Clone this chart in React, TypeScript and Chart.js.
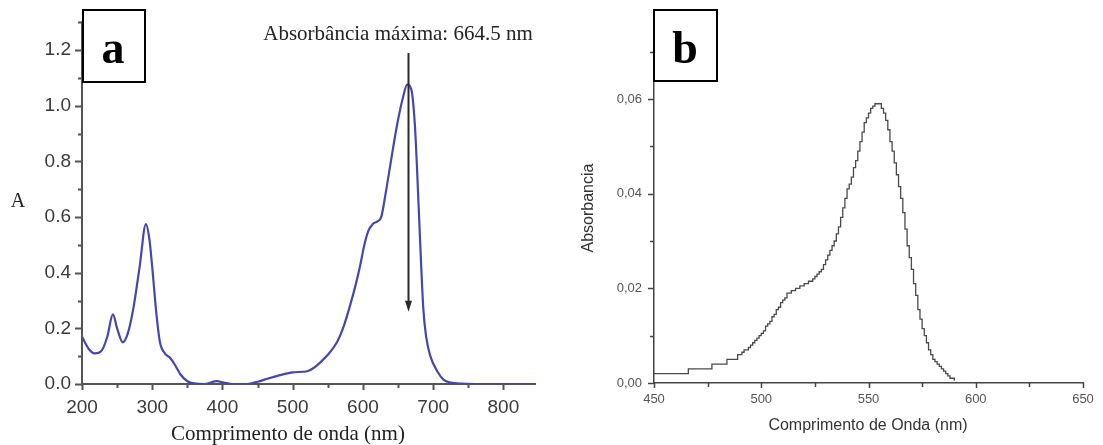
import React, { useEffect, useRef } from "react";
import { Chart, registerables } from "chart.js";

Chart.register(...registerables);

// ---------- Panel a data ----------
const aWavelengths = [
  200, 210, 218, 228, 236, 244, 250, 258, 265, 273, 282, 291, 296, 300, 306, 311, 318, 325, 332, 340,
  350, 360, 375, 392, 402, 415, 435, 450, 465, 482, 500, 521, 530, 539, 550, 563, 573, 582, 590, 596,
  602, 608, 614, 620, 626, 632, 639, 645, 650, 657, 663, 667, 670, 674, 677, 682, 686, 690, 696, 706,
  715, 725, 740, 760, 800, 845,
];
const aAbsorbance = [
  0.17, 0.125, 0.11, 0.12, 0.17, 0.25, 0.2, 0.15, 0.18, 0.27, 0.42, 0.575, 0.52, 0.42, 0.25, 0.15, 0.11, 0.095, 0.07, 0.035,
  0.01, 0.002, 0.0, 0.01, 0.005, 0.0, 0.0, 0.008, 0.02, 0.032, 0.042, 0.046, 0.058, 0.077, 0.105, 0.15, 0.21, 0.285, 0.36, 0.425,
  0.5, 0.552, 0.575, 0.584, 0.6, 0.68, 0.788, 0.88, 0.95, 1.03, 1.076, 1.07, 1.045, 0.93, 0.776, 0.48, 0.27, 0.17, 0.1, 0.045,
  0.015, 0.005, 0.001, 0.0, 0.0, 0.0,
];
const aXTicks = [200, 300, 400, 500, 600, 700, 800];
const aXTickLabels = ["200", "300", "400", "500", "600", "700", "800"];
const aXMinorTicks = [250, 350, 450, 550, 650, 750];
const aYTicks = [0, 0.2, 0.4, 0.6, 0.8, 1.0, 1.2];
const aYTickLabels = ["0.0", "0.2", "0.4", "0.6", "0.8", "1.0", "1.2"];
const aYMinorTicks = [0.1, 0.3, 0.5, 0.7, 0.9, 1.1, 1.3];
const aXRange = [200, 845];
const aYRange = [0, 1.3];
const aXTitle = "Comprimento de onda (nm)";
const aYTitle = "A";
const aLetter = "a";
const peakWavelength = 664.5;
const arrowTopValue = 1.19;
const arrowTipValue = 0.26;
const annotationText = "Absorbância máxima: 664.5 nm";

// ---------- Panel b data ----------
const bWavelengths = [
  450, 466, 477, 484, 489,
  490, 491, 492, 493, 494, 495, 496, 497, 498, 499,
  500, 501, 502, 503, 504, 505, 506, 507, 508, 509,
  510, 511, 512, 513, 514, 515, 516, 517, 518, 519,
  520, 521, 522, 523, 524, 525, 526, 527, 528, 529,
  530, 531, 532, 533, 534, 535, 536, 537, 538, 539,
  540, 541, 542, 543, 544, 545, 546, 547, 548, 549,
  550, 551, 552, 553, 554, 555, 556, 557, 558, 559,
  560, 561, 562, 563, 564, 565, 566, 567, 568, 569,
  570, 571, 572, 573, 574, 575, 576, 577, 578, 579,
  580, 581, 582, 583, 584, 585, 586, 587, 588, 589,
  590,
];
const bAbsorbance = [
  0.002, 0.003, 0.004, 0.005, 0.006,
  0.006, 0.0065, 0.007, 0.007, 0.0075, 0.008, 0.0085, 0.009, 0.0095, 0.01,
  0.0105, 0.011, 0.012, 0.0125, 0.013, 0.014, 0.0145, 0.0155, 0.016, 0.017,
  0.0175, 0.018, 0.019, 0.019, 0.0195, 0.0195, 0.02, 0.02, 0.0205, 0.0205,
  0.021, 0.021, 0.0215, 0.0215, 0.022, 0.0225, 0.023, 0.0235, 0.024, 0.025,
  0.026, 0.027, 0.028, 0.029, 0.03, 0.0315, 0.033, 0.035, 0.037, 0.039,
  0.041, 0.042, 0.0435, 0.0455, 0.047, 0.049, 0.051, 0.053, 0.055, 0.056,
  0.057, 0.058, 0.0585, 0.059, 0.059, 0.059, 0.058, 0.057, 0.0555, 0.0535,
  0.051, 0.049, 0.0465, 0.044, 0.0415, 0.039, 0.036, 0.0325, 0.029, 0.0265,
  0.024, 0.021, 0.0185, 0.0155, 0.0135, 0.0115, 0.01, 0.0085, 0.007, 0.006,
  0.005, 0.0045, 0.004, 0.0035, 0.003, 0.0025, 0.002, 0.0015, 0.001, 0.001,
  0.0005,
];
const bXTicks = [450, 500, 550, 600, 650];
const bXTickLabels = ["450", "500", "550", "600", "650"];
const bXMinorTicks = [475, 525, 575, 625];
const bYTicks = [0, 0.02, 0.04, 0.06];
const bYTickLabels = ["0,00", "0,02", "0,04", "0,06"];
const bYMinorTicks = [0.01, 0.03, 0.05, 0.07];
const bXRange = [450, 650];
const bYRange = [0, 0.075];
const bXTitle = "Comprimento de Onda (nm)";
const bYTitle = "Absorbancia";
const bLetter = "b";

const SANS = "'Liberation Sans', Arial, Helvetica, sans-serif";
const SERIF = "'Liberation Serif', 'Times New Roman', Times, serif";

type TickSpec = { major: number[]; minor: number[]; majorLen: number; minorLen: number };

function ticksPlugin(id: string, xs: TickSpec, ys: TickSpec, color: string, width: number) {
  return {
    id,
    afterDraw(chart: any) {
      const ctx = chart.ctx;
      const x = chart.scales.x;
      const y = chart.scales.y;
      const area = chart.chartArea;
      ctx.save();
      ctx.strokeStyle = color;
      ctx.lineWidth = width;
      ctx.beginPath();
      const drawX = (v: number, len: number) => {
        const px = Math.round(x.getPixelForValue(v)) + 0.5;
        ctx.moveTo(px, area.bottom);
        ctx.lineTo(px, area.bottom + len);
      };
      const drawY = (v: number, len: number) => {
        const py = Math.round(y.getPixelForValue(v)) + 0.5;
        ctx.moveTo(area.left, py);
        ctx.lineTo(area.left - len, py);
      };
      xs.major.forEach((v) => drawX(v, xs.majorLen));
      xs.minor.forEach((v) => drawX(v, xs.minorLen));
      ys.major.forEach((v) => drawY(v, ys.majorLen));
      ys.minor.forEach((v) => drawY(v, ys.minorLen));
      ctx.stroke();
      ctx.restore();
    },
  };
}

function letterBox(ctx: CanvasRenderingContext2D, x: number, y: number, w: number, h: number, letter: string, cx: number, base: number) {
  ctx.save();
  ctx.fillStyle = "#ffffff";
  ctx.fillRect(x, y, w, h);
  ctx.strokeStyle = "#000000";
  ctx.lineWidth = 2;
  ctx.strokeRect(x, y, w, h);
  ctx.fillStyle = "#000000";
  ctx.font = `bold 46px ${SERIF}`;
  ctx.textAlign = "center";
  ctx.textBaseline = "alphabetic";
  ctx.fillText(letter, cx, base);
  ctx.restore();
}

function scaleBase(
  range: number[],
  ticks: number[],
  labels: string[],
  size: number,
  fontSize: number,
  padding: number,
  color: string,
  borderColor: string,
  borderWidth: number
) {
  return {
    type: "linear" as const,
    min: range[0],
    max: range[1],
    afterBuildTicks: (scale: any) => {
      scale.ticks = ticks.map((v) => ({ value: v }));
    },
    afterFit: (scale: any) => {
      if (scale.isHorizontal()) scale.height = size;
      else scale.width = size;
    },
    grid: { display: false, drawTicks: false, tickLength: 0 },
    border: { display: true, color: borderColor, width: borderWidth },
    ticks: {
      autoSkip: false,
      maxRotation: 0,
      minRotation: 0,
      padding,
      color,
      font: { family: SANS, size: fontSize },
      callback: (_v: any, i: number) => labels[i],
    },
  };
}

function PanelA() {
  const ref = useRef<HTMLCanvasElement | null>(null);
  useEffect(() => {
    if (!ref.current) return;
    const decor = {
      id: "decorA",
      afterDraw(chart: any) {
        const ctx = chart.ctx;
        const xs = chart.scales.x;
        const ys = chart.scales.y;
        ctx.save();
        const ax = Math.round(xs.getPixelForValue(peakWavelength)) + 0.5;
        const top = ys.getPixelForValue(arrowTopValue);
        const tip = ys.getPixelForValue(arrowTipValue);
        ctx.strokeStyle = "#2a2a2a";
        ctx.fillStyle = "#2a2a2a";
        ctx.lineWidth = 2;
        ctx.beginPath();
        ctx.moveTo(ax, top);
        ctx.lineTo(ax, tip - 8);
        ctx.stroke();
        ctx.beginPath();
        ctx.moveTo(ax - 3.5, tip - 11);
        ctx.lineTo(ax + 3.5, tip - 11);
        ctx.lineTo(ax, tip);
        ctx.closePath();
        ctx.fill();
        ctx.fillStyle = "#222222";
        ctx.font = `21px ${SERIF}`;
        ctx.textAlign = "center";
        ctx.textBaseline = "alphabetic";
        ctx.fillText(annotationText, 398, 40);
        ctx.font = `21px ${SERIF}`;
        ctx.fillText(aXTitle, 288, 440);
        ctx.font = `20px ${SERIF}`;
        ctx.fillText(aYTitle, 18, 207);
        ctx.restore();
        letterBox(ctx, 83, 10, 62, 72, aLetter, 113, 63);
      },
    };
    const chart = new Chart(ref.current, {
      type: "line",
      data: {
        datasets: [
          {
            data: aWavelengths.map((w, i) => ({ x: w, y: aAbsorbance[i] })),
            borderColor: "#4646ad",
            borderWidth: 2.2,
            pointRadius: 0,
            cubicInterpolationMode: "monotone",
            fill: false,
          },
        ],
      },
      options: {
        responsive: false,
        animation: false,
        layout: { padding: { left: 12, right: 25, top: 14, bottom: 0 } },
        plugins: { legend: { display: false }, tooltip: { enabled: false }, title: { display: false } },
        scales: {
          x: scaleBase(aXRange, aXTicks, aXTickLabels, 61, 19, 12, "#3a3a3a", "#555555", 2),
          y: scaleBase(aYRange, aYTicks, aYTickLabels, 70, 19, 11, "#3a3a3a", "#555555", 2),
        },
      } as any,
      plugins: [
        ticksPlugin(
          "ticksA",
          { major: aXTicks, minor: aXMinorTicks, majorLen: 6, minorLen: 4 },
          { major: aYTicks, minor: aYMinorTicks, majorLen: 7, minorLen: 4 },
          "#555555",
          2
        ),
        decor,
      ],
    });
    return () => chart.destroy();
  }, []);
  return (
    <canvas
      ref={ref}
      width={560}
      height={445}
      style={{ position: "absolute", left: 0, top: 0, width: 560, height: 445 }}
    />
  );
}

function PanelB() {
  const ref = useRef<HTMLCanvasElement | null>(null);
  useEffect(() => {
    if (!ref.current) return;
    const decor = {
      id: "decorB",
      afterDraw(chart: any) {
        const ctx = chart.ctx;
        ctx.save();
        ctx.fillStyle = "#333333";
        ctx.font = `16px ${SANS}`;
        ctx.textAlign = "center";
        ctx.textBaseline = "middle";
        ctx.fillText(bXTitle, 868 - 560, 426);
        ctx.translate(589 - 560, 208);
        ctx.rotate(-Math.PI / 2);
        ctx.fillText(bYTitle, 0, 0);
        ctx.restore();
        letterBox(ctx, 654 - 560, 10, 63, 71, bLetter, 685 - 560, 63);
      },
    };
    const chart = new Chart(ref.current, {
      type: "line",
      data: {
        datasets: [
          {
            data: bWavelengths.map((w, i) => ({ x: w, y: bAbsorbance[i] })),
            borderColor: "#4a4a4a",
            borderWidth: 1.3,
            pointRadius: 0,
            stepped: true,
            fill: false,
          },
        ],
      },
      options: {
        responsive: false,
        animation: false,
        layout: { padding: { left: 24, right: 20, top: 28, bottom: 0 } },
        plugins: { legend: { display: false }, tooltip: { enabled: false }, title: { display: false } },
        scales: {
          x: scaleBase(bXRange, bXTicks, bXTickLabels, 62, 13, 9, "#555555", "#444444", 1.5),
          y: scaleBase(bYRange, bYTicks, bYTickLabels, 70, 13, 12, "#555555", "#444444", 1.5),
        },
      } as any,
      plugins: [
        ticksPlugin(
          "ticksB",
          { major: bXTicks, minor: bXMinorTicks, majorLen: 5, minorLen: 4 },
          { major: bYTicks, minor: bYMinorTicks, majorLen: 6, minorLen: 4 },
          "#444444",
          1.5
        ),
        decor,
      ],
    });
    return () => chart.destroy();
  }, []);
  return (
    <canvas
      ref={ref}
      width={543}
      height={445}
      style={{ position: "absolute", left: 560, top: 0, width: 543, height: 445 }}
    />
  );
}

export default function App() {
  return (
    <div style={{ position: "absolute", left: 0, top: 0, width: 1103, height: 445, background: "#ffffff" }}>
      <PanelA />
      <PanelB />
    </div>
  );
}
